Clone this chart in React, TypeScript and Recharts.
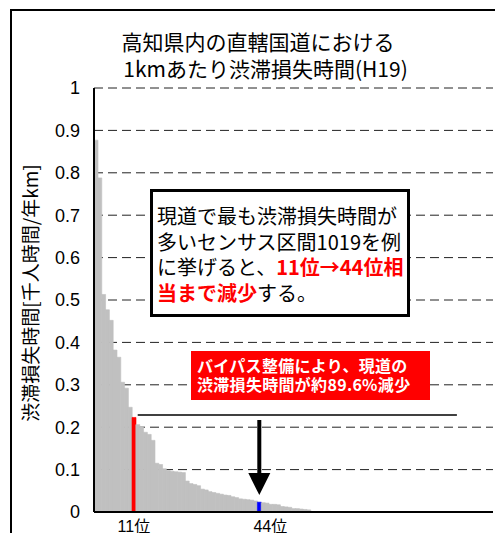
import React from 'react';
import { BarChart, Bar, Cell, XAxis, YAxis, CartesianGrid, ReferenceLine } from 'recharts';

// ranks of census sections, sorted by loss per km
const ranks = Array.from({ length: 105 }, (_, i) => i + 1);

// congestion loss time [1000 person-hours / year·km], ranks 1..57
const lossHours = [
  0.877, 0.788, 0.513, 0.477, 0.452, 0.382, 0.365, 0.306, 0.292, 0.247,
  0.223, 0.206, 0.201, 0.188, 0.183, 0.169, 0.115, 0.112, 0.102, 0.098,
  0.096, 0.095, 0.094, 0.093, 0.073, 0.067, 0.065, 0.062, 0.054, 0.052,
  0.048, 0.046, 0.044, 0.042, 0.04, 0.039, 0.036, 0.034, 0.031, 0.03,
  0.029, 0.028, 0.026, 0.0232, 0.022, 0.021, 0.018, 0.018, 0.017, 0.013,
  0.012, 0.011, 0.008, 0.008, 0.007, 0.006, 0.005,
];

const yTicks = [0, 0.1, 0.2, 0.3, 0.4, 0.5, 0.6, 0.7, 0.8, 0.9, 1];
const xTicks = [11, 44];

// section 1019 now (11th) and after the bypass (44th)
const currentRank = 11;
const afterRank = 44;

const JP = '"Noto Sans CJK JP", "Noto Sans", sans-serif';
const NUM = '"Liberation Sans", Arial, "Noto Sans CJK JP", sans-serif';

const data = ranks.map((rank, i) => ({ rank, loss: lossHours[i] ?? null }));

const barColor = (rank: number) =>
  rank === currentRank ? '#ff0000' : rank === afterRank ? '#0000ff' : '#c0c0c0';

// rank tick labels, e.g. "11位"
const RankTick = (props: any) => {
  const { x, y, payload } = props;
  const dx = payload.value === afterRank ? 11 : 0;
  return (
    <text
      x={x + dx}
      y={y + 6}
      textAnchor="middle"
      dominantBaseline="central"
      fontSize={16}
      fontFamily={NUM}
      fill="#000"
    >
      {payload.value}位
    </text>
  );
};

// thick downward arrow with a triangular head
const Arrow = (props: any) => {
  const { x1, y1, x2, y2 } = props;
  const head = 22;
  return (
    <g>
      <line x1={x1} y1={y1} x2={x2} y2={y2 - head + 2} stroke="#000" strokeWidth={4} />
      <polygon points={`${x2 - 11},${y2 - head} ${x2 + 11},${y2 - head} ${x2},${y2}`} fill="#000" />
    </g>
  );
};

export default function App() {
  return (
    <div
      style={{
        position: 'absolute',
        left: 0,
        top: 0,
        width: 495,
        height: 533,
        overflow: 'hidden',
        background: '#fff',
        fontFamily: JP,
      }}
    >
      <div
        style={{
          position: 'absolute',
          left: 10,
          top: 9,
          width: 540,
          height: 560,
          border: '2px solid #000',
        }}
      />

      <div style={{ position: 'absolute', left: 0, top: 28, width: 516, textAlign: 'center', fontSize: 21, lineHeight: '26px', color: '#000' }}>
        高知県内の直轄国道における
      </div>
      <div style={{ position: 'absolute', left: 0, top: 55, width: 531, textAlign: 'center', fontSize: 21, lineHeight: '26px', color: '#000' }}>
        1kmあたり渋滞損失時間(H19)
      </div>

      <div style={{ position: 'absolute', left: 0, top: 0 }}>
        <BarChart
          width={495}
          height={533}
          data={data}
          margin={{ top: 88, right: 2, left: 34, bottom: 0 }}
          barCategoryGap={0}
        >
          <CartesianGrid vertical={false} stroke="#222" strokeDasharray="9 5" />
          <XAxis
            dataKey="rank"
            ticks={xTicks}
            interval={0}
            height={21}
            tickLine={false}
            tick={<RankTick />}
            axisLine={{ stroke: '#000', strokeWidth: 2 }}
          />
          <XAxis
            xAxisId="top"
            dataKey="rank"
            orientation="top"
            height={0}
            tick={false}
            tickLine={false}
            axisLine={{ stroke: '#555', strokeWidth: 1.5 }}
          />
          <YAxis
            domain={[0, 1]}
            ticks={yTicks}
            interval={0}
            width={60}
            tickLine={false}
            tickMargin={8}
            tick={{ fontSize: 18, fill: '#000', fontFamily: NUM }}
            axisLine={{ stroke: '#000', strokeWidth: 2 }}
            label={{
              content: () => (
                <text
                  x={29}
                  y={293}
                  transform="rotate(-90 29 293)"
                  textAnchor="middle"
                  dominantBaseline="central"
                  fontSize={19}
                  fontFamily={JP}
                  fill="#000"
                >
                  渋滞損失時間[千人時間/年km]
                </text>
              ),
            }}
          />
          <YAxis
            yAxisId="right"
            orientation="right"
            domain={[0, 1]}
            width={0}
            tick={false}
            tickLine={false}
            axisLine={{ stroke: '#555', strokeWidth: 1.5 }}
          />
          <Bar dataKey="loss" isAnimationActive={false}>
            {data.map((d) => (
              <Cell
                key={d.rank}
                fill={barColor(d.rank)}
                stroke={barColor(d.rank)}
                strokeWidth={0.6}
              />
            ))}
          </Bar>
          <ReferenceLine
            segment={[
              { x: 12, y: 0.229 },
              { x: 96, y: 0.229 },
            ]}
            stroke="#000"
            strokeWidth={1.5}
          />
          <ReferenceLine
            segment={[
              { x: afterRank, y: 0.217 },
              { x: afterRank, y: 0.04 },
            ]}
            shape={<Arrow />}
          />
        </BarChart>
      </div>

      <div
        style={{
          position: 'absolute',
          left: 150,
          top: 189,
          width: 260,
          height: 128,
          boxSizing: 'border-box',
          border: '3px solid #000',
          background: '#fff',
          padding: '11px 0 0 4px',
          fontSize: 20,
          lineHeight: '25.5px',
          color: '#000',
          whiteSpace: 'nowrap',
        }}
      >
        現道で最も渋滞損失時間が
        <br />
        多いセンサス区間1019を例
        <br />
        に挙げると、<b style={{ color: '#ff0000' }}>11位→44位相</b>
        <br />
        <b style={{ color: '#ff0000' }}>当まで減少</b>する。
      </div>

      <div
        style={{
          position: 'absolute',
          left: 191,
          top: 351,
          width: 239,
          height: 49,
          boxSizing: 'border-box',
          background: '#ff0000',
          padding: '5px 0 0 6px',
          fontSize: 16,
          fontWeight: 'bold',
          lineHeight: '19px',
          color: '#fff',
          whiteSpace: 'nowrap',
          letterSpacing: 0.3,
        }}
      >
        バイパス整備により、現道の
        <br />
        渋滞損失時間が約89.6%減少
      </div>
    </div>
  );
}
